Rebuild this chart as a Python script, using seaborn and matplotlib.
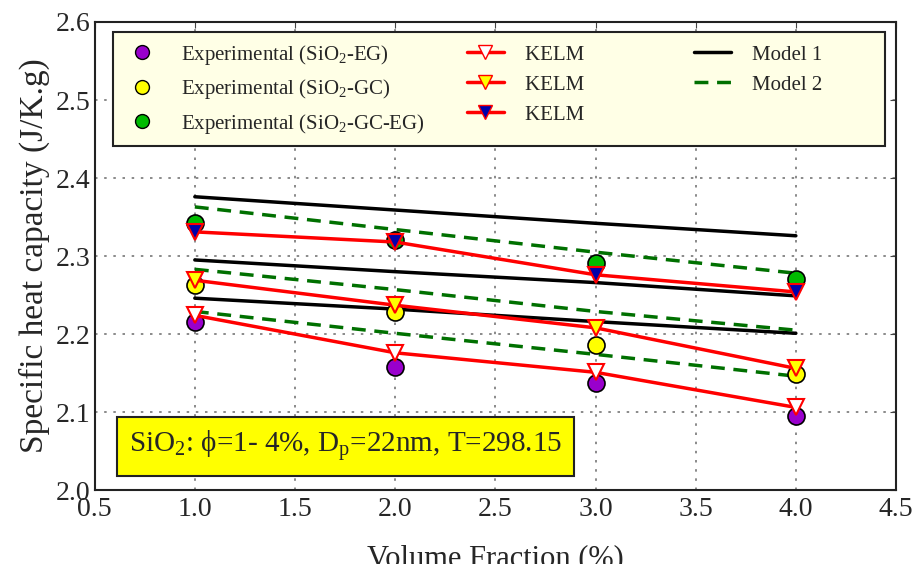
import matplotlib
matplotlib.use("Agg")
import matplotlib.pyplot as plt
import seaborn as sns
import pandas as pd
from matplotlib.lines import Line2D

x = [1.0, 2.0, 3.0, 4.0]
exp_eg = [2.215, 2.158, 2.137, 2.095]
exp_gc = [2.263, 2.228, 2.186, 2.149]
exp_gceg = [2.342, 2.320, 2.291, 2.270]
kelm_eg = [2.224, 2.176, 2.151, 2.106]
kelm_gc = [2.269, 2.237, 2.208, 2.156]
kelm_gceg = [2.331, 2.318, 2.276, 2.254]
model1_eg = [2.246, 2.232, 2.216, 2.201]
model1_gc = [2.295, 2.280, 2.266, 2.249]
model1_gceg = [2.376, 2.359, 2.342, 2.326]
model2_eg = [2.229, 2.201, 2.174, 2.146]
model2_gc = [2.283, 2.257, 2.229, 2.205]
model2_gceg = [2.363, 2.334, 2.305, 2.278]

sns.set_style("white")
plt.rcParams['font.family'] = ['Liberation Serif', 'DejaVu Serif']
plt.rcParams['mathtext.fontset'] = 'custom'
plt.rcParams['mathtext.rm'] = 'Liberation Serif'
plt.rcParams['mathtext.it'] = 'Liberation Serif:italic'

fig = plt.figure(figsize=(9.19, 5.64), dpi=100)
ax = fig.add_axes([0.103, 0.131, 0.872, 0.830])

# Models
for m1 in [model1_eg, model1_gc, model1_gceg]:
    sns.lineplot(x=x, y=m1, ax=ax, color='black', linewidth=2.5, zorder=2)
for m2 in [model2_eg, model2_gc, model2_gceg]:
    sns.lineplot(x=x, y=m2, ax=ax, color='#007000', linewidth=2.5, zorder=2)
for l in ax.lines[3:6]:
    l.set_dashes([4, 2.5])

# Experimental
for vals, c in [(exp_eg, '#9900CC'), (exp_gc, '#FFFF00'), (exp_gceg, '#00BB00')]:
    sns.scatterplot(x=x, y=vals, ax=ax, color=c, edgecolor='black', linewidth=1.2, s=150, zorder=3)

# KELM
for vals, fc in [(kelm_eg, 'white'), (kelm_gc, '#FFFF00'), (kelm_gceg, '#0000AA')]:
    sns.lineplot(x=x, y=vals, ax=ax, color='red', linewidth=2.5, marker='v',
                 markersize=11, markerfacecolor=fc, markeredgecolor='red',
                 markeredgewidth=1.5, zorder=4)

ax.set_xlim(0.5, 4.5)
ax.set_ylim(2.0, 2.6)
ax.set_xticks([0.5, 1.0, 1.5, 2.0, 2.5, 3.0, 3.5, 4.0, 4.5])
ax.set_xticklabels(['0.5', '1.0', '1.5', '2.0', '2.5', '3.0', '3.5', '4.0', '4.5'])
ax.set_yticks([2.0, 2.1, 2.2, 2.3, 2.4, 2.5, 2.6])
ax.set_yticklabels(['2.0', '2.1', '2.2', '2.3', '2.4', '2.5', '2.6'])
ax.tick_params(labelsize=20, direction='in', length=4, top=True, right=True, color='#444444')
ax.tick_params(axis='x', pad=5)
ax.tick_params(axis='y', pad=3)
ax.grid(True, linestyle=(0, (1.5, 4)), color='#777777', linewidth=1.2)
for s in ax.spines.values():
    s.set_color('#222222')
    s.set_linewidth(1.5)

ax.set_ylabel('Specific heat capacity (J/K.g)', fontsize=24, labelpad=4)
ax.set_xlabel('Volume Fraction (%)', fontsize=22, labelpad=16)

ax.text(0.67, 2.056, r'SiO$_2$: ϕ=1- 4%, D$_\mathrm{p}$=22nm, T=298.15', fontsize=21,
        va='center', ha='left', zorder=6,
        bbox=dict(boxstyle='square,pad=0.4', facecolor='#FFFF00', edgecolor='#222222', linewidth=1.5))

handles = [
    Line2D([], [], linestyle='none', marker='o', markersize=10, markerfacecolor='#9900CC', markeredgecolor='black'),
    Line2D([], [], linestyle='none', marker='o', markersize=10, markerfacecolor='#FFFF00', markeredgecolor='black'),
    Line2D([], [], linestyle='none', marker='o', markersize=10, markerfacecolor='#00BB00', markeredgecolor='black'),
    Line2D([], [], color='red', linewidth=2.5, marker='v', markersize=10, markerfacecolor='white', markeredgecolor='red'),
    Line2D([], [], color='red', linewidth=2.5, marker='v', markersize=10, markerfacecolor='#FFFF00', markeredgecolor='red'),
    Line2D([], [], color='red', linewidth=2.5, marker='v', markersize=10, markerfacecolor='#0000AA', markeredgecolor='red'),
    Line2D([], [], color='black', linewidth=2.5),
    Line2D([], [], color='#007000', linewidth=2.5, dashes=[4, 2.5]),
]
pad = '\u00a0' * 13
pad2 = '\u00a0' * 10
labels = ['Experimental (SiO$_2$-EG)', 'Experimental (SiO$_2$-GC)', 'Experimental (SiO$_2$-GC-EG)',
          'KELM' + pad, 'KELM' + pad, 'KELM' + pad, 'Model 1' + pad2, 'Model 2' + pad2]
leg = ax.legend(handles, labels, ncol=3, loc='upper left', bbox_to_anchor=(0.0225, 0.968, 0.964, 0.01),
                mode='expand', borderaxespad=0, fontsize=15, frameon=True, fancybox=False, framealpha=1,
                facecolor='#FFFFE6', edgecolor='#222222', handlelength=1.8, labelspacing=0.5,
                borderpad=0.5, columnspacing=1.5, handletextpad=1.0)
leg.get_frame().set_linewidth(1.5)
leg.set_zorder(7)

fig.savefig('out.png', dpi=100)
